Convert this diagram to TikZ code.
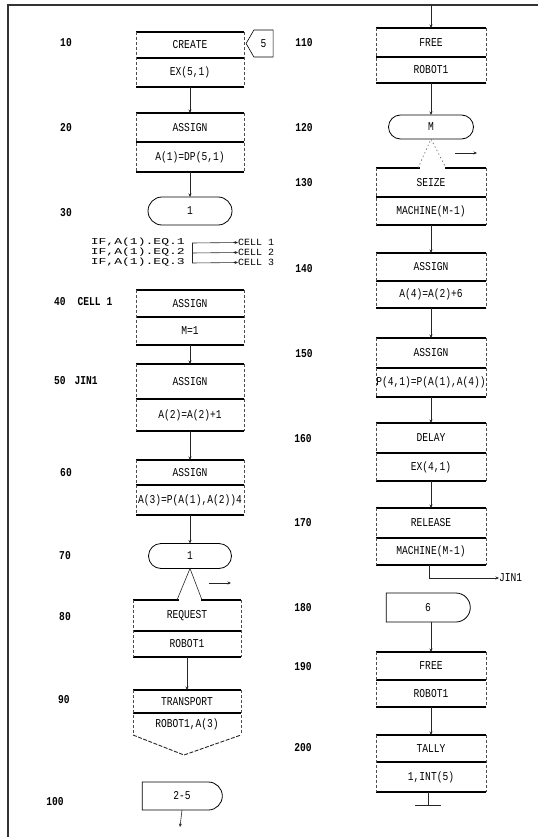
\documentclass[tikz,border=0pt]{standalone}
\usepackage{fontspec}
\usetikzlibrary{shapes.misc,shapes.symbols,arrows.meta}
\newfontfamily\dmfont[FakeStretch=0.8]{Liberation Mono}
\newfontfamily\dmwide[FakeStretch=1.45]{Liberation Mono}
\newfontfamily\dmcell[FakeStretch=1.05]{Liberation Mono}
\tikzset{
  cell/.style={inner sep=0pt, outer sep=0pt, minimum width=108pt, font=\dmfont\fontsize{12}{13}\selectfont},
  rcell/.style={cell, minimum width=110pt},
  hl/.style={line width=1.3pt, black},
  vl/.style={line width=0.5pt, black!70, dash pattern=on 3pt off 2pt},
  conn/.style={line width=0.6pt, black!85, -{Stealth[length=3.5pt,width=3pt]}},
  plainln/.style={line width=0.6pt, black!85},
  dotln/.style={line width=0.6pt, black!60, dash pattern=on 1.5pt off 2.5pt},
  lbl/.style={font=\dmfont\bfseries\fontsize{12}{13}\selectfont, inner sep=0pt},
  txt/.style={font=\dmfont\fontsize{12}{13}\selectfont, inner sep=0pt},
  celltxt/.style={font=\dmcell\fontsize{9.5}{9.5}\selectfont, inner sep=0pt},
  iftxt/.style={font=\dmwide\fontsize{9}{9}\selectfont, inner sep=0pt},
  oval/.style={rounded rectangle, draw, line width=0.8pt, inner sep=0pt, outer sep=0pt, font=\dmfont\fontsize{12}{13}\selectfont},
  halfoval/.style={oval, rounded rectangle west arc=none},
}
\newcommand\flowblk[8]{%
  \node[#8, minimum height={(#4)-(#3)}] (#1a) at (#2,{((#3)+(#4))/2}) {#6};
  \node[#8, minimum height={(#5)-(#4)}] (#1b) at (#2,{((#4)+(#5))/2}) {#7};
  \draw[hl] (#1a.north west) -- (#1a.north east) (#1a.south west) -- (#1a.south east) (#1b.south west) -- (#1b.south east);
  \draw[vl] (#1a.north west) -- (#1b.south west) (#1a.north east) -- (#1b.south east);
}
\begin{document}
\begin{tikzpicture}[x=1pt,y=-1pt]
\useasboundingbox (0,0) rectangle (538,837);
% frame
\draw[line width=1.5pt, black!80] (8,837) -- (8,5) -- (538,5);

% ---------- left column ----------
\flowblk{b10}{190}{32}{58}{87}{CREATE}{EX(5,1)}{cell}
\node[signal, signal to=west, signal pointer angle=120, draw, line width=0.6pt, minimum width=27pt, minimum height=27pt, inner sep=0pt, font=\dmfont\fontsize{12}{13}\selectfont] (n5) at (263.5,43.5) {5};
\flowblk{b20}{190}{113}{142}{172}{ASSIGN}{A(1)=DP(5,1)}{cell}
\node[oval, minimum width=84pt, minimum height=28pt] (o30) at (190,211) {1};
\node[iftxt, anchor=east] (if1) at (185,242.5) {IF,A(1).EQ.1};
\node[iftxt, anchor=east] (if2) at (185,252.5) {IF,A(1).EQ.2};
\node[iftxt, anchor=east] (if3) at (185,262.5) {IF,A(1).EQ.3};
\coordinate (brT) at (192,243);
\coordinate (brM) at (192,253);
\coordinate (brB) at (192,263);
\node[celltxt, anchor=west] (c1) at (238,242.5) {CELL 1};
\node[celltxt, anchor=west] (c2) at (238,252.5) {CELL 2};
\node[celltxt, anchor=west] (c3) at (238,262.5) {CELL 3};
\draw[plainln] (brT) -- (brB);
\draw[conn] (brT) -- (c1.west);
\draw[conn] (brM) -- (c2.west);
\draw[conn] (brB) -- (c3.west);
\flowblk{b40}{190}{290}{317}{345}{ASSIGN}{M=1}{cell}
\flowblk{b50}{190}{364}{399}{431}{ASSIGN}{A(2)=A(2)+1}{cell}
\flowblk{b60}{190}{460}{485}{515}{ASSIGN}{A(3)=P(A(1),A(2))4}{cell}
\node[oval, minimum width=83pt, minimum height=25pt] (o70) at (190,556) {1};
\flowblk{b80}{187}{600}{631}{657}{REQUEST}{ROBOT1}{cell}
\coordinate (q70l) at (177,600);
\coordinate (q70r) at (202,600);
\draw[white, line width=2.2pt] ([xshift=1.5pt]q70l) -- ([xshift=-1.5pt]q70r);
\draw[plainln] (q70l) -- (o70.south) -- (q70r);
\coordinate (bk70a) at (209,583);
\coordinate (bk70b) at (231,583);
\draw[conn] (bk70a) -- (bk70b);
% block 90 with V bottom
\node[cell, minimum height=23pt] (b90a) at (187,701.5) {TRANSPORT};
\node[cell, minimum height=22pt] (b90b) at (187,724) {ROBOT1,A(3)};
\coordinate (v90) at (184,755);
\draw[hl] (b90a.north west) -- (b90a.north east) (b90a.south west) -- (b90a.south east);
\draw[vl] (b90a.north west) -- (b90b.south west) (b90a.north east) -- (b90b.south east);
\draw[line width=0.9pt, black!85, dash pattern=on 4pt off 1.5pt] (b90b.south west) -- (v90) -- (b90b.south east);
\node[halfoval, minimum width=80pt, minimum height=28pt] (o100) at (182,796) {2-5};
\draw[conn] (o100.south) -- ++(-2,17);

% left connectors
\draw[conn] (b10b.south) -- (b20a.north);
\draw[conn] (b20b.south) -- (o30.north);
\draw[conn] (b40b.south) -- (b50a.north);
\draw[conn] (b50b.south) -- (b60a.north);
\draw[conn] (b60b.south) -- (o70.north);
\draw[conn] (b80b.south) -- (b90a.north);

% left labels
\node[lbl] (l10) at (66,43) {10};
\node[lbl] (l20) at (66,128) {20};
\node[lbl] (l30) at (66,213) {30};
\node[lbl, anchor=west] (l40) at (54,302) {40\hspace{12pt}CELL 1};
\node[lbl, anchor=west] (l50) at (54,381) {50\hspace{9pt}JIN1};
\node[lbl] (l60) at (66,473) {60};
\node[lbl] (l70) at (65,556) {70};
\node[lbl] (l80) at (65,617) {80};
\node[lbl] (l90) at (64,700) {90};
\node[lbl] (l100) at (55,802) {100};

% ---------- right column ----------
\coordinate (topin) at (431,5);
\flowblk{b110}{431}{28}{57}{83}{FREE}{ROBOT1}{rcell}
\draw[conn] (topin) -- (b110a.north);
\node[oval, minimum width=85pt, minimum height=24pt] (o120) at (431,127) {M};
\draw[conn] (b110b.south) -- (o120.north);
\flowblk{b130}{431}{168}{197}{225}{SEIZE}{MACHINE(M-1)}{rcell}
\coordinate (q120l) at (418,168);
\coordinate (q120r) at (446,168);
\draw[white, line width=2.2pt] ([xshift=1.5pt]q120l) -- ([xshift=-1.5pt]q120r);
\draw[dotln] (q120l) -- (o120.south) -- (q120r);
\coordinate (bk120a) at (455,153);
\coordinate (bk120b) at (477,153);
\draw[conn] (bk120a) -- (bk120b);
\flowblk{b140}{431}{253}{281}{308}{ASSIGN}{A(4)=A(2)+6}{rcell}
\flowblk{b150}{431}{338}{368}{397}{ASSIGN}{P(4,1)=P(A(1),A(4))}{rcell}
\flowblk{b160}{431}{423}{453}{481}{DELAY}{EX(4,1)}{rcell}
\flowblk{b170}{431}{508}{538}{565}{RELEASE}{MACHINE(M-1)}{rcell}
\node[txt, anchor=west] (jin) at (499,578) {JIN1};
\coordinate (j1) at (429,578);
\draw[conn] (b170b.south -| j1) -- (j1) -- (jin.west);
\node[halfoval, minimum width=84pt, minimum height=29pt] (o180) at (428,607.5) {6};
\flowblk{b190}{431}{652}{680}{707}{FREE}{ROBOT1}{rcell}
\flowblk{b200}{431}{735}{762}{792}{TALLY}{1,INT(5)}{rcell}
\coordinate (term) at (428,805);
\coordinate (termL) at (415,805);
\coordinate (termR) at (441,805);
\draw[plainln] (b200b.south -| term) -- (term);
\draw[line width=1pt, black!85] (termL) -- (termR);

% right connectors
\draw[conn] (b130b.south) -- (b140a.north);
\draw[conn] (b140b.south) -- (b150a.north);
\draw[conn] (b150b.south) -- (b160a.north);
\draw[conn] (b160b.south) -- (b170a.north);
\draw[conn] (o180.south -| b190a.north) -- (b190a.north);
\draw[conn] (b190b.south) -- (b200a.north);

% right labels
\node[lbl] (l110) at (304,43) {110};
\node[lbl] (l120) at (304,128) {120};
\node[lbl] (l130) at (304,183) {130};
\node[lbl] (l140) at (304,269) {140};
\node[lbl] (l150) at (304,354) {150};
\node[lbl] (l160) at (303,439) {160};
\node[lbl] (l170) at (303,523) {170};
\node[lbl] (l180) at (303,608) {180};
\node[lbl] (l190) at (303,667) {190};
\node[lbl] (l200) at (303,748) {200};
\end{tikzpicture}
\end{document}
